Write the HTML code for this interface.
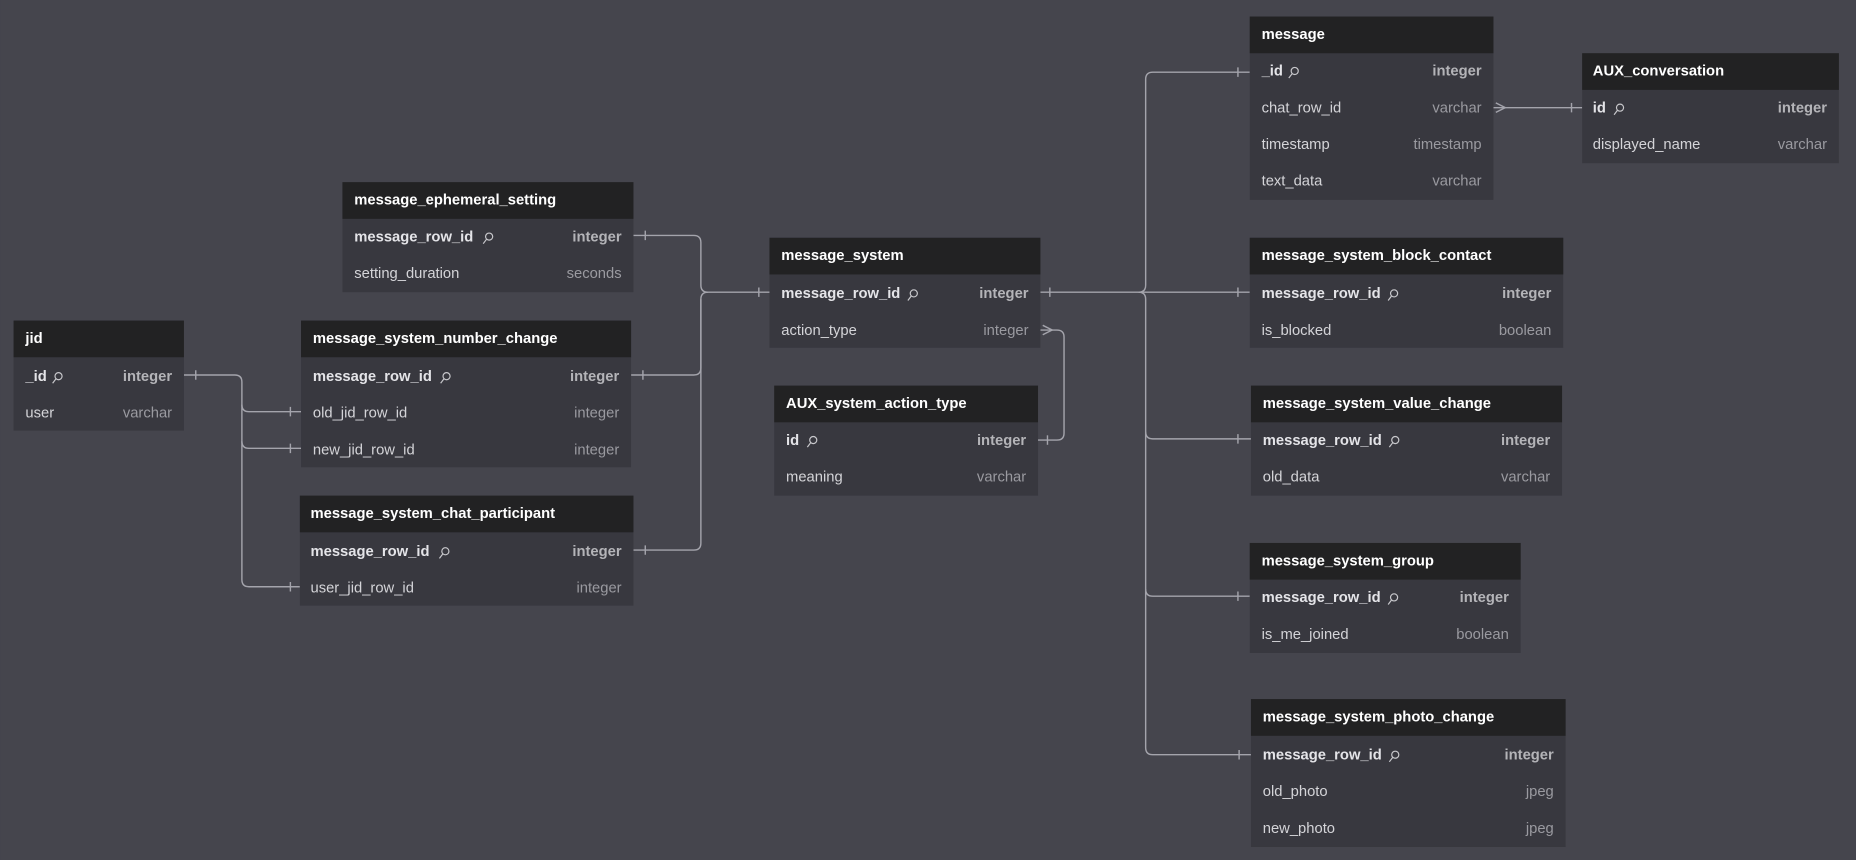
<!DOCTYPE html>
<html><head><meta charset="utf-8"><style>
html,body{margin:0;padding:0;background:#45454d;}
svg{display:block}
text{font-family:"Liberation Sans",sans-serif;font-size:12.5px}
.h{fill:#fff;font-weight:bold}
.n{fill:#d4d4d8}
.nk{fill:#e4e4e8;font-weight:bold}
.t{fill:#9a9aa0;text-anchor:end}
.tk{fill:#b4b4b8;font-weight:bold;text-anchor:end}
.hd{fill:#222223}
.rw{fill:#38383f}
.ln{fill:none;stroke:#a4a4ac;stroke-width:1.2}
.k{fill:none;stroke:#c8c8cc;stroke-width:1}
</style></head><body>
<svg width="1856" height="860" viewBox="0 0 1568 727" xmlns="http://www.w3.org/2000/svg">
<defs>
<g id="key"><circle cx="8" cy="-3" r="3" class="k"/><path d="M6 -1 L3 3" class="k"/></g>
</defs>
<rect width="1568" height="727" fill="#45454d"/>

<g class="ln">
<path d="M535 199 H586 Q592 199 592 205 V241 Q592 247 598 247 H650"/>
<path d="M533 317 H586 Q592 317 592 311 V253 Q592 247 598 247"/>
<path d="M535 465 H586 Q592 465 592 459 V253"/>
<path d="M545 195 V203 M543 313 V321 M545 461 V469 M641 243 V251"/>
<path d="M155 317 H198 Q204 317 204 323 V490 Q204 496 210 496 H253"/>
<path d="M204 342 Q204 348 210 348 H254"/>
<path d="M204 373 Q204 379 210 379 H254"/>
<path d="M165 313 V321 M245 344 V352 M245 375 V383 M245 492 V500"/>
<path d="M879 247 H962 Q968 247 968 241 V67 Q968 61 974 61 H1056"/>
<path d="M962 247 H1056"/>
<path d="M962 247 Q968 247 968 253 V632 Q968 638 974 638 H1057"/>
<path d="M968 365 Q968 371 974 371 H1057"/>
<path d="M968 498 Q968 504 974 504 H1056"/>
<path d="M887 243 V251 M1046 57 V65 M1046 243 V251 M1046 367 V375 M1046 500 V508 M1047 634 V642"/>
<path d="M879 279 H893 Q899 279 899 285 V366 Q899 372 893 372 H877"/>
<path d="M881 275 L889 279 L881 283"/>
<path d="M885 368 V376"/>
<path d="M1262 91 H1337"/>
<path d="M1264 87 L1272 91 L1264 95"/>
<path d="M1328 87 V95"/>
</g>

<rect x="289" y="154" width="246" height="93" class="rw"/><rect x="289" y="154" width="246" height="31" class="hd"/>
<text x="299" y="173" class="h">message_ephemeral_setting</text>
<text x="299" y="204" class="nk">message_row_id</text><use href="#key" x="405" y="203"/><text x="525" y="204" class="tk">integer</text>
<text x="299" y="235" class="n">setting_duration</text><text x="525" y="235" class="t">seconds</text>

<rect x="11" y="271" width="144" height="93" class="rw"/><rect x="11" y="271" width="144" height="31" class="hd"/>
<text x="21" y="290" class="h">jid</text>
<text x="21" y="322" class="nk">_id</text><use href="#key" x="41" y="321"/><text x="145" y="322" class="tk">integer</text>
<text x="21" y="353" class="n">user</text><text x="145" y="353" class="t">varchar</text>

<rect x="254" y="271" width="279" height="124" class="rw"/><rect x="254" y="271" width="279" height="31" class="hd"/>
<text x="264" y="290" class="h">message_system_number_change</text>
<text x="264" y="322" class="nk">message_row_id</text><use href="#key" x="369" y="321"/><text x="523" y="322" class="tk">integer</text>
<text x="264" y="353" class="n">old_jid_row_id</text><text x="523" y="353" class="t">integer</text>
<text x="264" y="384" class="n">new_jid_row_id</text><text x="523" y="384" class="t">integer</text>

<rect x="253" y="419" width="282" height="93" class="rw"/><rect x="253" y="419" width="282" height="31" class="hd"/>
<text x="262" y="438" class="h">message_system_chat_participant</text>
<text x="262" y="470" class="nk">message_row_id</text><use href="#key" x="368" y="469"/><text x="525" y="470" class="tk">integer</text>
<text x="262" y="501" class="n">user_jid_row_id</text><text x="525" y="501" class="t">integer</text>

<rect x="650" y="201" width="229" height="93" class="rw"/><rect x="650" y="201" width="229" height="31" class="hd"/>
<text x="660" y="220" class="h">message_system</text>
<text x="660" y="252" class="nk">message_row_id</text><use href="#key" x="764" y="251"/><text x="869" y="252" class="tk">integer</text>
<text x="660" y="283" class="n">action_type</text><text x="869" y="283" class="t">integer</text>

<rect x="654" y="326" width="223" height="93" class="rw"/><rect x="654" y="326" width="223" height="31" class="hd"/>
<text x="664" y="345" class="h">AUX_system_action_type</text>
<text x="664" y="376" class="nk">id</text><use href="#key" x="679" y="375"/><text x="867" y="376" class="tk">integer</text>
<text x="664" y="407" class="n">meaning</text><text x="867" y="407" class="t">varchar</text>

<rect x="1056" y="14" width="206" height="155" class="rw"/><rect x="1056" y="14" width="206" height="31" class="hd"/>
<text x="1066" y="33" class="h">message</text>
<text x="1066" y="64" class="nk">_id</text><use href="#key" x="1086" y="63"/><text x="1252" y="64" class="tk">integer</text>
<text x="1066" y="95" class="n">chat_row_id</text><text x="1252" y="95" class="t">varchar</text>
<text x="1066" y="126" class="n">timestamp</text><text x="1252" y="126" class="t">timestamp</text>
<text x="1066" y="157" class="n">text_data</text><text x="1252" y="157" class="t">varchar</text>

<rect x="1337" y="45" width="217" height="93" class="rw"/><rect x="1337" y="45" width="217" height="31" class="hd"/>
<text x="1346" y="64" class="h">AUX_conversation</text>
<text x="1346" y="95" class="nk">id</text><use href="#key" x="1361" y="94"/><text x="1544" y="95" class="tk">integer</text>
<text x="1346" y="126" class="n">displayed_name</text><text x="1544" y="126" class="t">varchar</text>

<rect x="1056" y="201" width="265" height="93" class="rw"/><rect x="1056" y="201" width="265" height="31" class="hd"/>
<text x="1066" y="220" class="h">message_system_block_contact</text>
<text x="1066" y="252" class="nk">message_row_id</text><use href="#key" x="1170" y="251"/><text x="1311" y="252" class="tk">integer</text>
<text x="1066" y="283" class="n">is_blocked</text><text x="1311" y="283" class="t">boolean</text>

<rect x="1057" y="326" width="263" height="93" class="rw"/><rect x="1057" y="326" width="263" height="31" class="hd"/>
<text x="1067" y="345" class="h">message_system_value_change</text>
<text x="1067" y="376" class="nk">message_row_id</text><use href="#key" x="1171" y="375"/><text x="1310" y="376" class="tk">integer</text>
<text x="1067" y="407" class="n">old_data</text><text x="1310" y="407" class="t">varchar</text>

<rect x="1056" y="459" width="229" height="93" class="rw"/><rect x="1056" y="459" width="229" height="31" class="hd"/>
<text x="1066" y="478" class="h">message_system_group</text>
<text x="1066" y="509" class="nk">message_row_id</text><use href="#key" x="1170" y="508"/><text x="1275" y="509" class="tk">integer</text>
<text x="1066" y="540" class="n">is_me_joined</text><text x="1275" y="540" class="t">boolean</text>

<rect x="1057" y="591" width="266" height="125" class="rw"/><rect x="1057" y="591" width="266" height="31" class="hd"/>
<text x="1067" y="610" class="h">message_system_photo_change</text>
<text x="1067" y="642" class="nk">message_row_id</text><use href="#key" x="1171" y="641"/><text x="1313" y="642" class="tk">integer</text>
<text x="1067" y="673" class="n">old_photo</text><text x="1313" y="673" class="t">jpeg</text>
<text x="1067" y="704" class="n">new_photo</text><text x="1313" y="704" class="t">jpeg</text>
</svg>
</body></html>
